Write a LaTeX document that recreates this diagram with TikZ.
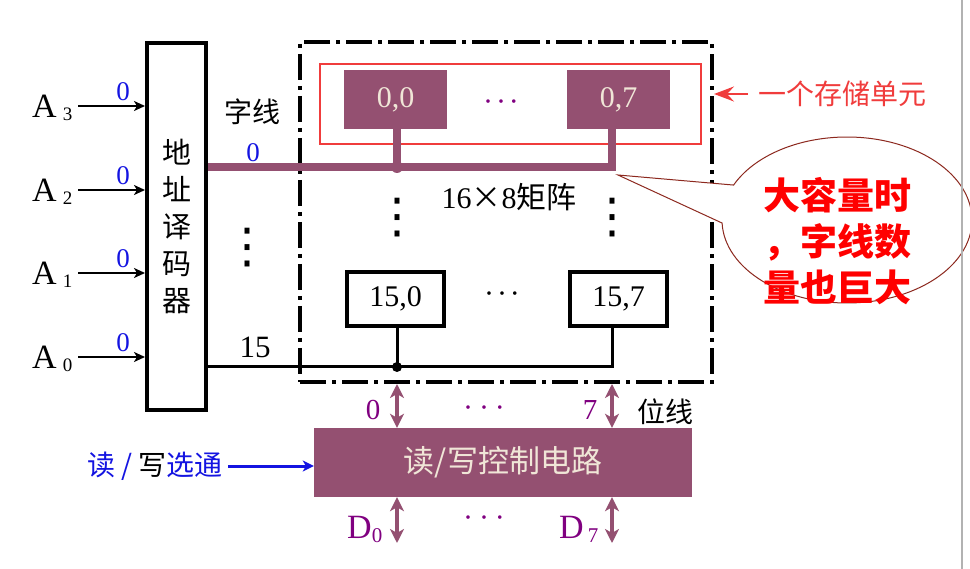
\documentclass[tikz,border=0pt]{standalone}
\usepackage{fontspec}
\setmainfont{Liberation Serif}
\newfontfamily\cjk{Noto Sans CJK SC}
\newfontfamily\dejavu{DejaVu Sans}
\usetikzlibrary{arrows.meta,calc}
\definecolor{cellp}{RGB}{148,80,113}
\definecolor{labp}{RGB}{128,0,128}
\definecolor{lblue}{RGB}{20,20,225}
\definecolor{cred}{RGB}{240,60,60}
\definecolor{ctext}{RGB}{240,230,215}
\definecolor{brn}{RGB}{140,40,30}
\newcommand\fsz[1]{\fontsize{#1}{#1}\selectfont}
\newcommand\hdots[1]{·\hspace{#1}·\hspace{#1}·}
\tikzset{
  cellP/.style={fill=cellp, text=ctext, minimum width=103pt, minimum height=59pt, inner sep=0pt, font=\fsz{30}},
  cellW/.style={draw, line width=4pt, fill=white, minimum width=97pt, minimum height=54pt, inner sep=0pt, font=\fsz{30}},
  wl/.style={draw=cellp, line width=8pt},
  bl/.style={draw=black, line width=3pt},
  bitarrow/.style={draw=cellp, line width=3.5pt, {Stealth[length=14pt,width=14pt,inset=4pt]}-{Stealth[length=14pt,width=14pt,inset=4pt]}},
  inarrow/.style={draw=black, line width=2.5pt, -{Stealth[length=11pt,width=10pt,inset=3pt]}},
  lab/.style={inner sep=0pt},
  vdot/.style={inner sep=0pt, font=\dejavu\fsz{48}},
  bluelab/.style={inner sep=0pt, text=lblue, font=\fsz{27}},
  purlab/.style={inner sep=0pt, text=labp, font=\fsz{29}},
}
\begin{document}
\begin{tikzpicture}[x=1pt,y=-1pt]
\useasboundingbox (0,0) rectangle (970,569);

% address decoder
\node[draw, line width=4pt, minimum width=59pt, minimum height=367pt, inner sep=0pt,
      font=\cjk\fontsize{29}{37}\selectfont, align=center] (dec) at (176.5,226.5)
      {地\\址\\译\\码\\器};

% address inputs
\foreach \n/\yy in {3/106,2/190,1/273,0/357}{
  \node[lab, anchor=base west, font=\fsz{34}] (la\n) at (32,\yy+12) {A\hspace{6pt}\raisebox{-3pt}{\fsz{19}\n}};
  \coordinate (a\n) at (78,\yy);
  \draw[inarrow] (a\n) -- (dec.west |- a\n);
  \node[bluelab] (z\n) at (123,\yy-14) {0};
}

% matrix frame
\node[draw, line width=4pt, dash pattern=on 26pt off 6pt on 4pt off 6pt,
      minimum width=412pt, minimum height=340pt, inner sep=0pt] (mat) at (506,212) {};

% cells
\node[cellP] (c00) at (395.5,99.5) {0,0};
\node[cellP] (c07) at (618.5,99.5) {0,7};
\node[cellW] (c150) at (395.5,299) {15,0};
\node[cellW] (c157) at (618.5,299) {15,7};
\node[draw=cred, line width=2pt, minimum width=381pt, minimum height=80pt, inner sep=0pt] (ubox) at (510.5,104) {};

% dots
\node[lab, text=labp, font=\fsz{30}] (hd0) at (501,106) {\hdots{3pt}};
\node[lab, font=\fsz{30}] (hd15) at (502,298) {\hdots{3pt}};
\node[vdot] (vd0) at (397,218) {⋮};
\node[vdot] (vd7) at (612,218) {⋮};
\node[vdot] (vdl) at (247,248) {⋮};
\node[lab, font=\fsz{30}] (mlab) at (509,197) {16{\cjk ×}8{\cjk 矩阵}};

% word line 0
\coordinate (j0) at (397,167);
\coordinate (j7) at (612,167);
\draw[wl] (dec.east |- j0) -- (j7) -- (c07.south -| j7);
\draw[wl] (c00.south -| j0) -- (j0);
\fill[cellp] (j0) circle (6pt);

% word line 15
\coordinate (k0) at (397,367);
\coordinate (k7) at (612,367);
\draw[bl] (dec.east |- k0) -- (k7) -- (c157.south -| k7);
\draw[bl] (c150.south -| k0) -- (k0);
\fill (k0) circle (5pt);

% decoder output labels
\node[lab, font=\cjk\fsz{28}] (zx) at (252,112) {字线};
\node[bluelab] (w0) at (253,153) {0};
\node[lab, font=\fsz{31}] (w15) at (255,347) {15};

% read/write control
\node[fill=cellp, text=ctext, minimum width=378pt, minimum height=69pt, inner sep=0pt,
      font=\cjk\fsz{31}] (ctrl) at (503,462.5) {读/写控制电路};
\coordinate (d0) at (397,543);
\coordinate (d7) at (612,543);
\draw[bitarrow] (mat.south -| k0) -- (ctrl.north -| k0);
\draw[bitarrow] (mat.south -| k7) -- (ctrl.north -| k7);
\draw[bitarrow] (ctrl.south -| d0) -- (d0);
\draw[bitarrow] (ctrl.south -| d7) -- (d7);
\node[purlab] (b0) at (373,410) {0};
\node[purlab] (b7) at (590,410) {7};
\node[lab, text=labp, font=\fsz{30}] (bd) at (484,412) {\hdots{6pt}};
\node[lab, text=labp, font=\fsz{30}] (dd) at (484,522) {\hdots{6pt}};
\node[lab, font=\cjk\fsz{28}] (wx) at (665,412) {位线};
\node[lab, text=labp, font=\fsz{34}, anchor=base west] (D0) at (347,538) {D\raisebox{-4pt}{\fsz{21}0}};
\node[lab, text=labp, font=\fsz{34}, anchor=base west] (D7) at (559,538) {D\hspace{4pt}\raisebox{-4pt}{\fsz{21}7}};

% read/write strobe
\node[lab, anchor=east, text=lblue, font=\cjk\fsz{28}] (rw) at (223,466) {读 / {\color{black}写}选通};
\draw[draw=lblue, line width=3pt, -{Stealth[length=11pt,width=11pt,inset=3pt]}] ([xshift=5pt]rw.east) -- (ctrl.west |- rw.east);

% one storage cell
\node[lab, anchor=west, text=cred, font=\cjk\fsz{28}] (unit) at (758,94) {一个存储单元};
\draw[draw=cred, fill=cred, line width=2.5pt, shorten <=10pt, -{Stealth[length=20pt,width=15pt,inset=7pt]}] (unit.west) -- (mat.east |- unit.west);

% callout
\coordinate (tip) at (618,175);
\draw[brn, line width=1pt, fill=white]
  ($(847,220)+(204.9:125 and 83)$) -- (tip) -- ($(847,220)+(177.9:125 and 83)$)
  arc[start angle=177.9, end angle=-155.1, x radius=125, y radius=83] -- cycle;
\node[lab, text=red, font=\cjk\bfseries\fontsize{37}{46}\selectfont, align=left] (note) at (837,241)
  {大容量时\\，字线数\\量也巨大};

% page edge line
\draw[gray!60, line width=2pt] (962,0) -- (962,569);
\end{tikzpicture}
\end{document}
